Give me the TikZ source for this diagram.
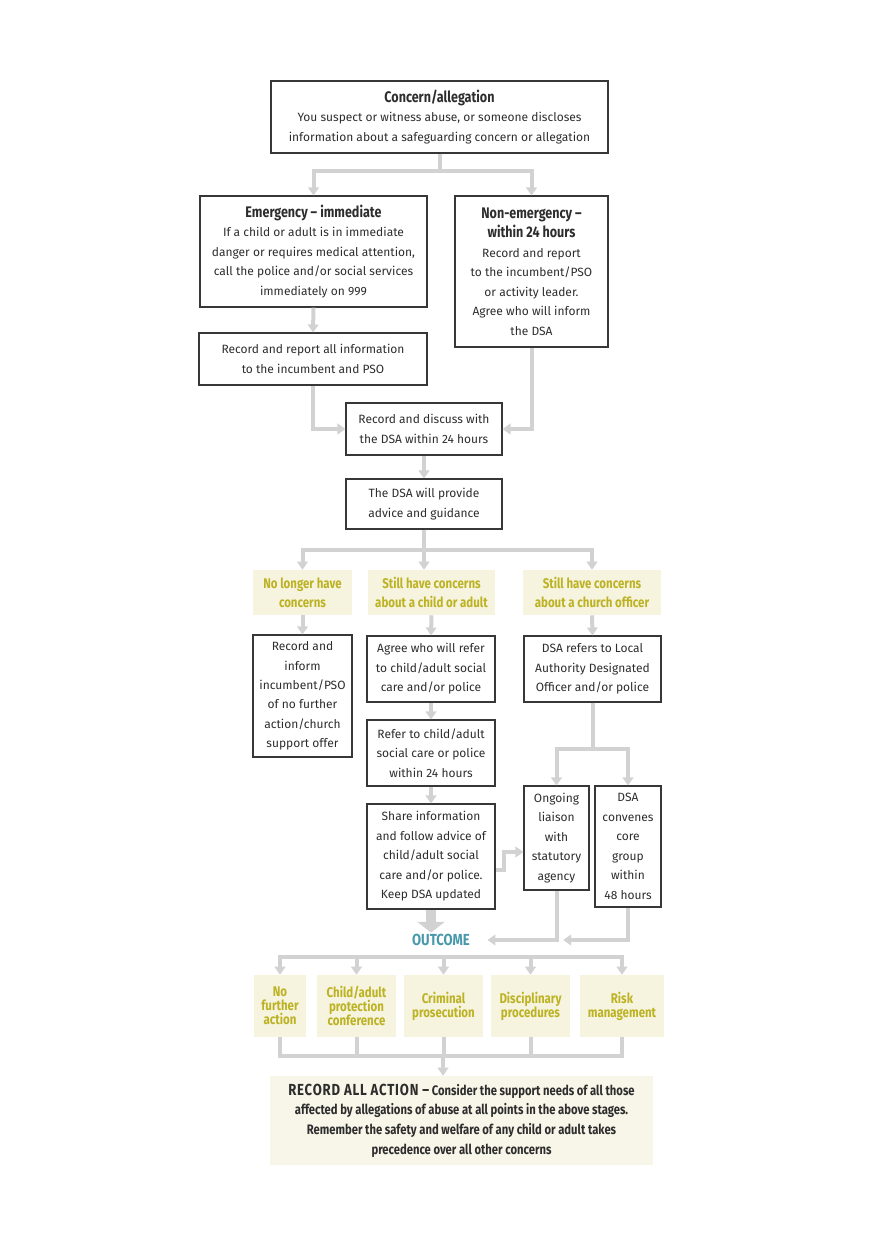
\documentclass[tikz,border=0pt]{standalone}
\usepackage{fontspec}
\setmainfont{Fira Sans}
\newfontfamily\narrowbold[FakeStretch=0.82]{Fira Sans}
\usetikzlibrary{arrows.meta, positioning}

\definecolor{ink}{RGB}{45,45,45}
\definecolor{frame}{RGB}{55,55,55}
\definecolor{connector}{RGB}{210,210,210}
\definecolor{cream}{RGB}{246,244,222}
\definecolor{paper}{RGB}{248,246,233}
\definecolor{mustard}{RGB}{188,178,36}
\definecolor{sea}{RGB}{72,152,172}

\begin{document}
\begin{tikzpicture} [x=0.75pt, y=-0.75pt,
  box/.style={draw=frame, line width=0.8pt, align=center, inner sep=0pt, text=ink, font=\fontsize{9}{14.6}\selectfont},
  question/.style={fill=cream, align=center, inner sep=0pt, minimum height=33.75pt, text=mustard, font=\narrowbold\bfseries\fontsize{10.5}{14.3}\selectfont},
  outcomebox/.style={question, minimum height=46.5pt, font=\narrowbold\bfseries\fontsize{10.5}{10.5}\selectfont},
  flow/.style={draw=connector, line width=3pt, -{Triangle[length=6pt, width=8pt]}},
  link/.style={draw=connector, line width=3pt}]
\useasboundingbox (0,0) rectangle (874,1240);

% first report
\node (concern) [box, minimum width=252.75pt, minimum height=54pt] at (439.5,117)
  {{\narrowbold\bfseries\fontsize{11.5}{14.6}\selectfont Concern/allegation}\\
   You suspect or witness abuse, or someone discloses\\
   information about a safeguarding concern or allegation};
\node (emerg) [box, minimum width=170.25pt, minimum height=83.25pt] at (313.5,251.5)
  {{\narrowbold\bfseries\fontsize{11.5}{14.6}\selectfont Emergency – immediate}\\
   If a child or adult is in immediate\\
   danger or requires medical attention,\\
   call the police and/or social services\\
   immediately on 999};
\node (nonemerg) [box, minimum width=114.75pt, minimum height=113.25pt] at (531.5,271.5)
  {{\narrowbold\bfseries\fontsize{11.5}{14.6}\selectfont Non-emergency –}\\
   {\narrowbold\bfseries\fontsize{11.5}{14.6}\selectfont within 24 hours}\\
   Record and report\\
   to the incumbent/PSO\\
   or activity leader.\\
   Agree who will inform\\
   the DSA};
\node (recall) [box, minimum width=171pt, minimum height=39pt] at (313,359)
  {Record and report all information\\ to the incumbent and PSO};
\node (discuss) [box, minimum width=117pt, minimum height=39pt] at (424,429)
  {Record and discuss with\\ the DSA within 24 hours};
\node (advice) [box, minimum width=117pt, minimum height=37.5pt] at (424,504)
  {The DSA will provide\\ advice and guidance};

% three questions
\node (nolonger) [question, minimum width=74.25pt] at (302.5,592.5)
  {No longer have\\ concerns};
\node (stillchild) [question, minimum width=95.25pt] at (431.5,592.5)
  {Still have concerns\\ about a child or adult};
\node (stillofficer) [question, minimum width=103.5pt] at (592,592.5)
  {Still have concerns\\ about a church officer};

\node (inform) [box, minimum width=74.25pt, minimum height=91.5pt] at (302.5,696)
  {Record and\\ inform\\ incumbent/PSO\\ of no further\\ action/church\\ support offer};
\node (agree) [box, minimum width=96pt, minimum height=49.5pt] at (431,669)
  {Agree who will refer\\ to child/adult social\\ care and/or police};
\node (dsarefers) [box, minimum width=102.75pt, minimum height=49.5pt] at (592.5,669)
  {DSA refers to Local\\ Authority Designated\\ Officer and/or police};
\node (refer) [box, minimum width=96pt, minimum height=49.5pt] at (431,753)
  {Refer to child/adult\\ social care or police\\ within 24 hours};
\node (share) [box, minimum width=96pt, minimum height=78.75pt] at (431,856.5)
  {Share information\\ and follow advice of\\ child/adult social\\ care and/or police.\\ Keep DSA updated};
\node (liaison) [box, minimum width=48.75pt, minimum height=78pt] at (556.5,838)
  {Ongoing\\ liaison\\ with\\ statutory\\ agency};
\node (convenes) [box, minimum width=49.5pt, minimum height=90.75pt] at (628,846.5)
  {DSA\\ convenes\\ core\\ group\\ within\\ 48 hours};

\node (outcome) [text=sea, inner sep=1pt, font=\narrowbold\bfseries\fontsize{12}{12}\selectfont] at (441,940) {OUTCOME};

% outcomes
\node (nfa) [outcomebox, minimum width=39pt] at (280,1006) {No\\ further\\ action};
\node (conf) [outcomebox, minimum width=59.25pt] at (356.5,1006) {Child/adult\\ protection\\ conference};
\node (crim) [outcomebox, minimum width=59.25pt] at (443.5,1006) {Criminal\\ prosecution};
\node (disc) [outcomebox, minimum width=59.25pt] at (530.5,1006) {Disciplinary\\ procedures};
\node (risk) [outcomebox, minimum width=63pt] at (622,1006) {Risk\\ management};

\node (recordall) [fill=paper, align=center, inner sep=0pt, minimum width=287.25pt, minimum height=66.75pt, text=ink,
  font=\narrowbold\bfseries\fontsize{10.3}{14.8}\selectfont] at (461.5,1120.5)
  {{\fontsize{12}{14.8}\selectfont\addfontfeature{LetterSpace=5}RECORD ALL ACTION –}\ Consider the support needs of all those\\
   affected by allegations of abuse at all points in the above stages.\\
   Remember the safety and welfare of any child or adult takes\\
   precedence over all other concerns};

\coordinate (fan) at (443,957);
\coordinate (join) at (443,1056);

% connectors
\draw [flow] (concern.south) -- ++(0,17) -| (emerg.north);
\draw [flow] (concern.south) -- ++(0,17) -| (nonemerg.north);
\draw [flow] (emerg.south) -- (recall.north);
\draw [flow] (recall.south) |- (discuss.west);
\draw [flow] (nonemerg.south) |- (discuss.east);
\draw [flow] (discuss.south) -- (advice.north);
\draw [flow] (advice.south) -- ++(0,20) -| (nolonger.north);
\draw [flow] (advice.south) -- (advice.south |- stillchild.north);
\draw [flow] (advice.south) -- ++(0,20) -| (stillofficer.north);
\draw [flow] (nolonger.south) -- (inform.north);
\draw [flow] (stillchild.south) -- (agree.north);
\draw [flow] (stillofficer.south) -- (dsarefers.north);
\draw [flow] (agree.south) -- (refer.north);
\draw [flow] (refer.south) -- (share.north);
\draw [flow] (dsarefers.south) -- ++(0,46) -| (liaison.north);
\draw [flow] (dsarefers.south) -- ++(0,46) -| (convenes.north);
\draw [flow] ([yshift=-10pt]share.east) -- ++(8,0) |- ([yshift=-10.5pt]liaison.west);
\draw [draw=connector, line width=8pt, -{Triangle[length=8pt, width=20pt]}] (share.south) -- (share.south |- outcome.north);
\draw [flow] (liaison.south) |- ([xshift=12pt]outcome.east);
\draw [flow] (convenes.south) |- ([xshift=5pt]liaison.south |- outcome.east);
\foreach \n in {nfa, conf, crim, disc, risk} {
  \draw [flow] (fan) -| (\n.north);
  \draw [link] (\n.south) |- (join);
}
\draw [flow] (join) -- (join |- recordall.north);
\end{tikzpicture}
\end{document}
